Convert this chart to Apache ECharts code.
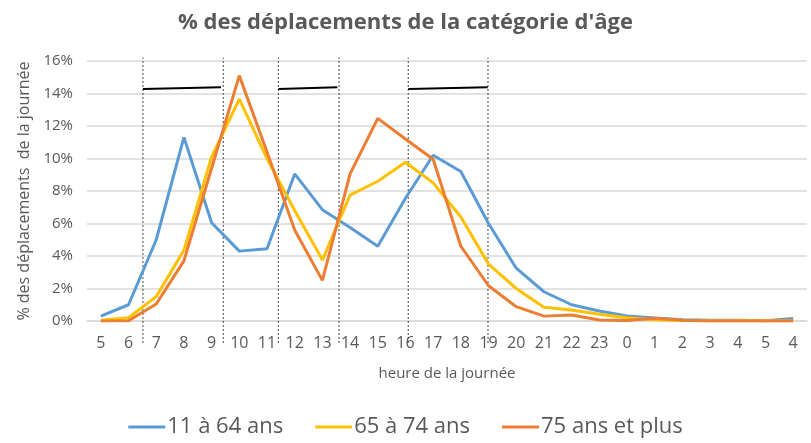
<!DOCTYPE html>
<html>
<head>
<meta charset="utf-8">
<script src="https://cdn.jsdelivr.net/npm/echarts@6/dist/echarts.min.js"></script>
<style>
  html, body { margin: 0; padding: 0; background: #fff; }
  #chart { width: 811px; height: 443px; }
</style>
</head>
<body>
<div id="chart"></div>
<script>
// heures affichées sur l'axe
const hours = ['5','6','7','8','9','10','11','12','13','14','15','16','17','18','19','20','21','22','23','0','1','2','3','4','5','4'];
// % des déplacements par tranche d'âge
const age11to64 = [0.3,1.0,5.0,11.3,6.05,4.3,4.45,9.05,6.85,5.75,4.6,7.55,10.2,9.2,6.0,3.25,1.8,1.0,0.62,0.31,0.18,0.08,0.04,0.04,0.02,0.15];
const age65to74 = [0.05,0.2,1.5,4.35,10.1,13.65,10.0,6.8,3.75,7.75,8.6,9.77,8.5,6.4,3.5,2.0,0.85,0.68,0.41,0.2,0.08,0.03,0.02,0.02,0.02,0.02];
const age75plus = [0.0,0.02,1.05,3.7,9.4,15.1,10.4,5.6,2.5,9.05,12.47,11.2,9.95,4.6,2.17,0.88,0.3,0.37,0.06,0.03,0.17,0.05,0.0,0.0,0.0,0.0];
// repères (position en index de catégorie)
const dottedLines = [1.52, 4.42, 6.41, 8.6, 11.1, 13.98];
const peakPeriods = [[1.52, 4.34], [6.41, 8.54], [11.1, 13.97]];
const peakLevel = [14.28, 14.38];

const font = '"Open Sans", sans-serif';
const grey = '#595959';

var chart = echarts.init(document.getElementById('chart'));

var dottedSeries = dottedLines.map(function (x) {
  return {
    type: 'line', xAxisIndex: 1, silent: true, clip: false, symbol: 'none',
    lineStyle: { color: '#404040', width: 1, type: [2, 2] },
    data: [[x, -1.35], [x, 16.2]],
    z: 1
  };
});
var peakSeries = peakPeriods.map(function (p) {
  return {
    type: 'line', xAxisIndex: 1, silent: true, clip: false, symbol: 'none',
    lineStyle: { color: '#000', width: 2 },
    data: [[p[0], peakLevel[0]], [p[1], peakLevel[1]]],
    z: 1
  };
});

function ageSeries(name, data, color) {
  return {
    name: name, type: 'line', data: data, symbol: 'none',
    lineStyle: { color: color, width: 3 }, itemStyle: { color: color }, z: 3
  };
}

var option = {
  animation: false,
  title: {
    text: "% des déplacements de la catégorie d'âge",
    left: 'center', top: 7,
    textStyle: { fontFamily: font, fontSize: 22, fontWeight: 'bold', color: grey }
  },
  grid: { left: 87, right: 4, top: 61, bottom: 122 },
  legend: {
    bottom: 0, left: 'center', itemGap: 32, itemWidth: 37, itemHeight: 3, icon: 'rect',
    data: ['11 à 64 ans', '65 à 74 ans', '75 ans et plus'],
    textStyle: { fontFamily: font, fontSize: 22, color: grey, padding: [0, 0, 0, -3] }
  },
  xAxis: [{
    type: 'category', data: hours, boundaryGap: true,
    name: 'heure de la journée', nameLocation: 'middle', nameGap: 45,
    nameTextStyle: { fontFamily: font, fontSize: 15, color: grey },
    axisLine: { lineStyle: { color: '#d9d9d9', width: 1.5 } },
    axisTick: { show: false },
    axisLabel: { fontFamily: font, fontSize: 16, color: grey, margin: 14 }
  }, {
    type: 'value', min: -0.5, max: 25.5, show: false
  }],
  yAxis: {
    type: 'value', min: 0, max: 16, interval: 2,
    name: '% des déplacements  de la journée', nameLocation: 'middle', nameGap: 50, nameRotate: 90,
    nameTextStyle: { fontFamily: font, fontSize: 16, color: grey },
    axisLine: { show: false }, axisTick: { show: false },
    axisLabel: { formatter: '{value}%', fontFamily: font, fontSize: 15, color: grey, margin: 14 },
    splitLine: { lineStyle: { color: '#d9d9d9', width: 1.5 } }
  },
  series: dottedSeries.concat(peakSeries).concat([
    ageSeries('11 à 64 ans', age11to64, '#5b9bd5'),
    ageSeries('65 à 74 ans', age65to74, '#ffc000'),
    ageSeries('75 ans et plus', age75plus, '#ed7d31')
  ])
};
chart.setOption(option);
</script>
</body>
</html>
